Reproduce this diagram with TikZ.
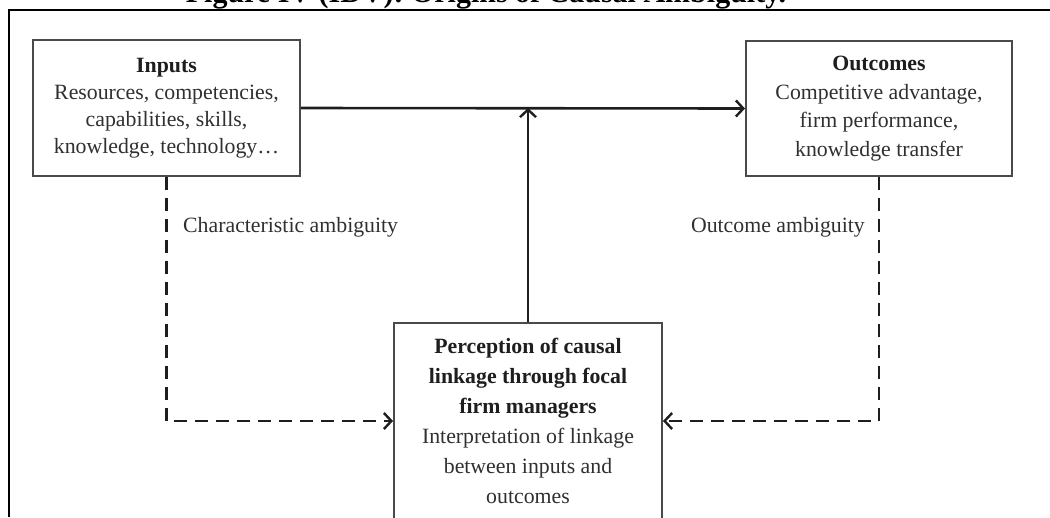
\documentclass[tikz,border=0pt]{standalone}
\usepackage{fontspec}
\setmainfont{Liberation Serif}
\usetikzlibrary{arrows.meta,calc}

\definecolor{ink}{HTML}{1E1E1E}
\definecolor{bodytext}{HTML}{303030}
\definecolor{boxline}{HTML}{4A4A4A}

\tikzset{
  box/.style={draw=boxline, line width=1.9pt, fill=white, inner sep=0pt,
    align=center, text=bodytext},
  txt/.style={inner sep=0pt, align=center, text=bodytext},
  lbl/.style={inner sep=0pt, text=bodytext, font=\fontsize{21.8}{26}\selectfont},
  flow/.style={draw=ink, line width=2.6pt,
    -{Straight Barb[length=7.5pt,width=16pt,line width=2.4pt]}},
  amb/.style={flow, dash pattern=on 13pt off 8pt},
  hd/.style={text=ink}
}

\begin{document}
\begin{tikzpicture}[x=1pt,y=-1pt]
\useasboundingbox (0,0) rectangle (1050,517);
\clip (0,0) rectangle (1050,517);

% heading, cut by the frame edge
\node[font=\bfseries\fontsize{30}{36}\selectfont, text=black, anchor=base, inner sep=0pt]
  (title) at (486,2) {Figure IV (IDV): Origins of Causal Ambiguity.};

% open frame: top and left rules
\coordinate (frameTR) at (1050,10);
\coordinate (frameTL) at (9,10);
\coordinate (frameBL) at (9,517);
\draw[line width=2.2pt, black] (frameTR) -- (frameTL) -- (frameBL);

% boxes
\node[box, minimum width=267pt, minimum height=136pt,
      font=\fontsize{21.8}{27}\selectfont] (inputs) at (166.5,108)
  {{\bfseries\color{ink}Inputs}\\Resources, competencies,\\capabilities, skills,\\knowledge, technology\ldots};

\node[box, minimum width=266pt, minimum height=135pt,
      font=\fontsize{21.8}{28.5}\selectfont] (outcomes) at (879,108.5)
  {{\bfseries\color{ink}Outcomes}\\Competitive advantage,\\firm performance,\\knowledge transfer};

\node[box, minimum width=268pt, minimum height=240pt, anchor=north] (perc) at (528,322) {};
\node[txt, anchor=north, font=\fontsize{21.8}{30}\selectfont] (perctext) at (528,338)
  {{\bfseries\color{ink}Perception of causal}\\{\bfseries\color{ink}linkage through focal}\\{\bfseries\color{ink}firm managers}\\Interpretation of linkage\\between inputs and\\outcomes};

% connectors
\draw[flow] (inputs.east) -- (outcomes.west);
\draw[flow] (perc.north) -- (perc.north |- inputs.east);
\draw[amb] (inputs.south) |- ($(perc.north west)+(0,99)$);
\draw[amb] (outcomes.south) |- ($(perc.north east)+(0,99)$);

% ambiguity labels
\node[lbl, anchor=base west] (charamb) at (183,232) {Characteristic ambiguity};
\node[lbl, anchor=base east] (outamb) at (865,232) {Outcome ambiguity};
\end{tikzpicture}
\end{document}
